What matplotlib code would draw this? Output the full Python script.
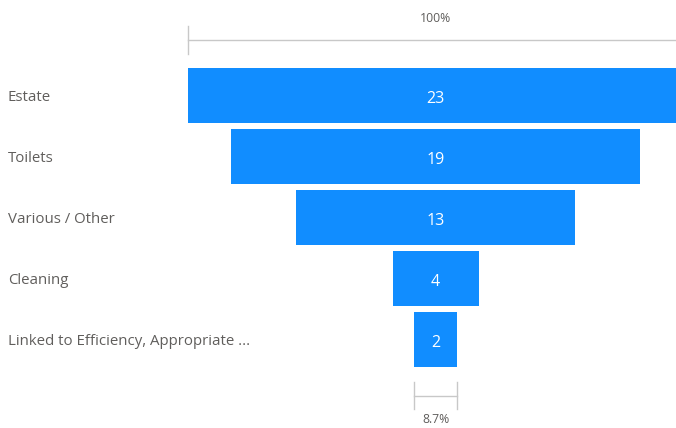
import matplotlib
matplotlib.use("Agg")
import matplotlib.pyplot as plt

categories = ["Estate", "Toilets", "Various / Other", "Cleaning",
              "Linked to Efficiency, Appropriate ..."]
counts = [23, 19, 13, 4, 2]

bar_color = "#118DFF"
text_gray = "#605E5C"
line_gray = "#C8C8C8"

plt.rcParams['font.family'] = ['Open Sans', 'DejaVu Sans']

fig = plt.figure(figsize=(6.76, 4.28), dpi=100)
ax = fig.add_axes([0, 0, 1, 1])

# pixel layout: 1 unit of value = 21.5 px, funnel centre at x=435.5 px
px_per_unit = 21.5
cx = 435.5
row_px = 61.1
row0 = 95.5
ax.set_xlim(-cx / px_per_unit, (676 - cx) / px_per_unit)
ax.set_ylim((428 - row0) / row_px, -row0 / row_px)
ax.axis("off")

def ypx(p):
    return (p - row0) / row_px

def xpx(p):
    return (p - cx) / px_per_unit

for i, (cat, v) in enumerate(zip(categories, counts)):
    ax.barh(i, v, left=-v / 2, height=0.9, color=bar_color)
    ax.text(0, i + 0.05, str(v), ha="center", va="center",
            color="white", fontsize=11.5)
    ax.text(xpx(8), i + 0.03, cat, ha="left", va="center",
            color=text_gray, fontsize=10.8)

# top scale (first stage = 100%)
top = counts[0]
yl = ypx(40)
ax.plot([-top / 2, top / 2], [yl, yl], color=line_gray, lw=1)
ax.plot([-top / 2, -top / 2], [ypx(26), ypx(54)], color=line_gray, lw=1)
ax.text(0, ypx(18), f"{top / counts[0]:.0%}", ha="center", va="center",
        color=text_gray, fontsize=8.8)

# bottom bracket (last stage as share of first)
last = counts[-1]
yb = ypx(396)
ax.plot([-last / 2, last / 2], [yb, yb], color=line_gray, lw=1)
for xe in (-last / 2, last / 2):
    ax.plot([xe, xe], [ypx(382), ypx(409)], color=line_gray, lw=1)
ax.text(0, ypx(420), f"{last / counts[0] * 100:.1f}%", ha="center",
        va="center", color=text_gray, fontsize=8.8)

fig.savefig("out.png", dpi=100)
